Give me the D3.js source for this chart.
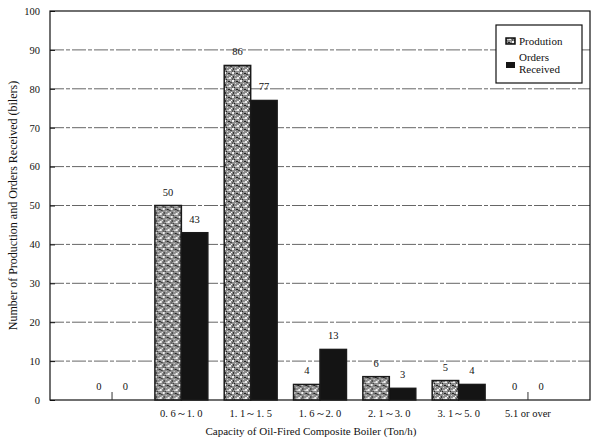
<!DOCTYPE html>
<html><head><meta charset="utf-8">
<script src="https://cdn.jsdelivr.net/npm/d3@7"></script>
<style>body{margin:0;background:#fff}svg{display:block}text{font-family:"Liberation Serif","DejaVu Serif",serif;fill:#111}</style>
</head><body>
<script>
const categories = ["", "0. 6～1. 0", "1. 1～1. 5", "1. 6～2. 0", "2. 1～3. 0", "3. 1～5. 0", "5.1 or over"];
const seriesNames = ["Prodution", "Orders Received"];
const production = [0, 50, 86, 4, 6, 5, 0];
const orders = [0, 43, 77, 13, 3, 4, 0];
const yTicks = [0, 10, 20, 30, 40, 50, 60, 70, 80, 90, 100];

const W = 600, H = 441;
const m = {left: 50, right: 10, top: 11, bottom: 41};
const svg = d3.select("body").append("svg").attr("width", W).attr("height", H);

const defs = svg.append("defs");
const pat = defs.append("pattern").attr("id", "dither").attr("patternUnits", "userSpaceOnUse")
  .attr("width", 8).attr("height", 8);
pat.append("rect").attr("width", 8).attr("height", 8).attr("fill", "#8c8c8c");
[[0,0,2,2,"#f2f2f2"],[4,1,2,1,"#222"],[1,4,1,2,"#333"],[5,5,2,2,"#eeeeee"],[3,3,1,1,"#d8d8d8"],
 [6,2,2,1,"#444"],[0,6,1,2,"#555"],[3,6,2,1,"#cfcfcf"],[6,0,1,1,"#bbb"],[2,1,1,1,"#666"],[7,4,1,1,"#fff"],[2,7,1,1,"#222"]]
  .forEach(([px,py,w,h,c]) => pat.append("rect").attr("x",px).attr("y",py).attr("width",w).attr("height",h).attr("fill",c));

const x0 = d3.scaleBand().domain(categories.map((c,i)=>i)).range([m.left, W - m.right]).paddingInner(0).paddingOuter(0.395);
const x1 = d3.scaleBand().domain([0,1]).range([0, x0.bandwidth()]).paddingInner(0).paddingOuter(0.31);
const y = d3.scaleLinear().domain([0, 100]).range([H - m.bottom, m.top]);

// gridlines
svg.append("g").selectAll("line").data(yTicks.filter(t=>t>0 && t<100)).join("line")
  .attr("x1", m.left).attr("x2", W - m.right)
  .attr("y1", d=>y(d)).attr("y2", d=>y(d))
  .attr("stroke", "#666").attr("stroke-width", 1).attr("stroke-dasharray", "14,2,4,2");

// y axis
const yAxis = d3.axisLeft(y).tickValues(yTicks).tickSize(-5).tickPadding(10);
const gy = svg.append("g").attr("transform", `translate(${m.left},0)`).call(yAxis);
gy.select(".domain").remove();
gy.selectAll("text").attr("font-size", 10.5).style("font-family", "Liberation Serif");
gy.selectAll("line").attr("stroke", "#111");

// frame
svg.append("rect").attr("x", m.left).attr("y", m.top).attr("width", W - m.left - m.right)
  .attr("height", H - m.top - m.bottom).attr("fill", "none").attr("stroke", "#111").attr("stroke-width", 1.2);

// x ticks (inside, upward)
svg.append("g").selectAll("line").data(categories.map((c,i)=>i)).join("line")
  .attr("x1", d=>x0(d)+x0.bandwidth()/2).attr("x2", d=>x0(d)+x0.bandwidth()/2)
  .attr("y1", y(0)).attr("y2", y(0)-8).attr("stroke", "#333");

// bars
const data = categories.map((c,i)=>[production[i], orders[i]]);
const groups = svg.append("g").selectAll("g").data(data).join("g")
  .attr("transform", (d,i)=>`translate(${x0(i)},0)`);
groups.selectAll("rect").data(d=>d.map((v,j)=>({v,j}))).join("rect")
  .attr("x", d=>x1(d.j)).attr("width", x1.bandwidth())
  .attr("y", d=>y(d.v)).attr("height", d=>y(0)-y(d.v))
  .attr("fill", d=>d.j===0 ? "url(#dither)" : "#141414")
  .attr("stroke", d=>d.v>0 ? "#1a1a1a" : "none").attr("stroke-width", 1.5);
groups.selectAll("text").data(d=>d.map((v,j)=>({v,j}))).join("text")
  .attr("x", d=>x1(d.j)+x1.bandwidth()/2).attr("y", d=>y(d.v)-10)
  .attr("text-anchor", "middle").attr("font-size", 10.5).text(d=>d.v);

// x axis labels
const xAxis = d3.axisBottom(x0).tickFormat(i=>categories[i]).tickSize(0).tickPadding(10);
const gx = svg.append("g").attr("transform", `translate(0,${y(0)})`).call(xAxis);
gx.select(".domain").remove();
gx.selectAll("text").attr("font-size", 10.5).style("font-family", "Liberation Serif");

// axis titles
svg.append("text").attr("x", 311).attr("y", 435).attr("text-anchor", "middle").attr("font-size", 11)
  .text("Capacity of Oil-Fired Composite Boiler (Ton/h)");
svg.append("text").attr("transform", `translate(17,${(m.top + H - m.bottom)/2}) rotate(-90)`)
  .attr("text-anchor", "middle").attr("font-size", 12)
  .text("Number of Production and Orders Received (bilers)");

// legend
const lg = svg.append("g").attr("transform", "translate(496,25)");
lg.append("rect").attr("width", 86).attr("height", 58).attr("fill", "#fff").attr("stroke", "#111").attr("stroke-width", 1.2);
lg.append("rect").attr("x", 10).attr("y", 13).attr("width", 9).attr("height", 6).attr("fill", "url(#dither)").attr("stroke", "#111").attr("stroke-width", 1.5);
lg.append("text").attr("x", 23).attr("y", 20).attr("font-size", 11).text(seriesNames[0]);
lg.append("rect").attr("x", 10).attr("y", 37).attr("width", 9).attr("height", 6).attr("fill", "#151515");
lg.append("text").attr("x", 23).attr("y", 36).attr("font-size", 11).text("Orders");
lg.append("text").attr("x", 23).attr("y", 48).attr("font-size", 11).text("Received");
</script>
</body></html>
